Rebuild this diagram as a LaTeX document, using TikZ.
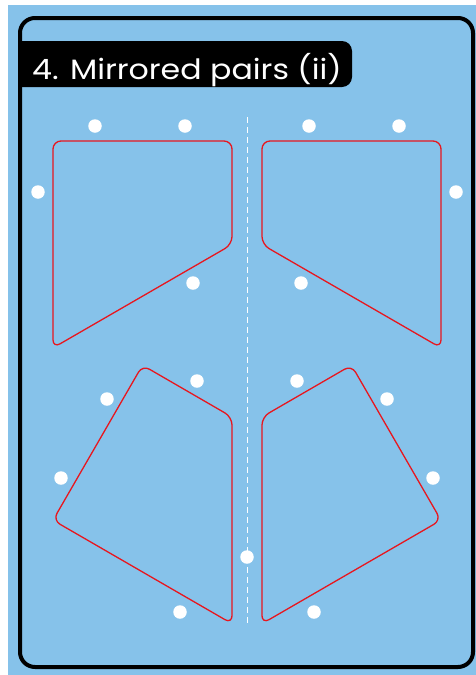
\documentclass[tikz,border=0pt]{standalone}
\usepackage{fontspec}
\usepackage{graphicx}
\newfontfamily\titlefont{Poppins}
\definecolor{panelblue}{RGB}{134,194,234}
\definecolor{cutred}{RGB}{232,22,30}
\tikzset{
  dot/.style={circle, fill=white, inner sep=0pt, minimum size=13.5pt},
  piece/.style={draw=cutred, line width=1.3pt, rounded corners=8pt},
}

\begin{document}
\begin{tikzpicture}[x=1pt, y=-1pt]
\useasboundingbox (0,0) rectangle (476,675);
\fill[white] (0,0) rectangle (476,675);
\fill[panelblue] (8,5) rectangle (476,675);
\draw[line width=4pt, rounded corners=15pt] (20,18) rectangle (473,667);
% title
\fill[black] (18,41) -- (342,41) arc[start angle=-90, end angle=0, radius=10]
  -- (352,77) arc[start angle=0, end angle=90, radius=10] -- (18,87) -- cycle;
\node[anchor=base west, inner sep=0pt, text=white, font=\titlefont\fontsize{28}{30}\selectfont] (title) at (32,79) {\scalebox{1.13}[1]{4. Mirrored pairs (ii)}};
% mirror line
\coordinate (axistop) at (247,117);
\coordinate (axisbot) at (247,625);
\draw[white, line width=1pt, dash pattern=on 6pt off 4pt] (axistop) -- (axisbot);
% pieces
\draw[piece] (53,141) -- (232,141) -- (232,244.5) -- (53,347.9) -- cycle;
\draw[piece] (441,141) -- (262,141) -- (262,244.5) -- (441,347.9) -- cycle;
\draw[piece] (53,520.2) -- (142.5,365.2) -- (232,417) -- (232,623.7) -- cycle;
\draw[piece] (441,520.2) -- (351.5,365.2) -- (262,417) -- (262,623.7) -- cycle;
% dots
\node[dot] (tl1) at (95,126) {};
\node[dot] (tl2) at (185,126) {};
\node[dot] (tl3) at (38,192) {};
\node[dot] (tl4) at (193,283) {};
\node[dot] (tr1) at (309,126) {};
\node[dot] (tr2) at (399,126) {};
\node[dot] (tr3) at (456,192) {};
\node[dot] (tr4) at (301,283) {};
\node[dot] (bl1) at (107,399) {};
\node[dot] (bl2) at (197,381) {};
\node[dot] (bl3) at (61,478) {};
\node[dot] (bl4) at (180,612) {};
\node[dot] (br1) at (387,399) {};
\node[dot] (br2) at (297,381) {};
\node[dot] (br3) at (433,478) {};
\node[dot] (br4) at (314,612) {};
\node[dot] (mid) at (247,557) {};
\end{tikzpicture}
\end{document}
